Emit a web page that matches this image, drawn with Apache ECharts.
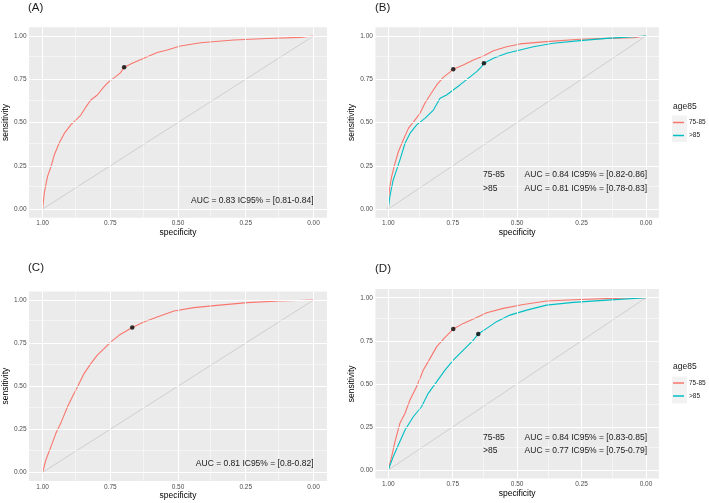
<!DOCTYPE html>
<html><head><meta charset="utf-8">
<script src="https://cdn.jsdelivr.net/npm/echarts@6/dist/echarts.min.js"></script>
<style>html,body{margin:0;padding:0;background:#fff}#c{width:709px;height:503px}</style>
</head><body><div id="c"></div>
<script>
// ---- data ----
const tickValues = [0, 0.25, 0.5, 0.75, 1];
const minorValues = [0.125, 0.375, 0.625, 0.875];
const groups = ['75-85', '>85'];
const panelTitles = ['(A)', '(B)', '(C)', '(D)'];
const diagSpec = [1, 0];
const diagSens = [0, 1];

// Panel A
const specA = [1, 0.994, 0.982, 0.969, 0.957, 0.939, 0.92, 0.896, 0.871, 0.859, 0.84, 0.822, 0.798, 0.773, 0.755, 0.73, 0.712, 0.699, 0.663, 0.626, 0.577, 0.54, 0.491, 0.417, 0.294, 0.172, 0.049, 0];
const sensA = [0, 0.09, 0.187, 0.245, 0.312, 0.38, 0.437, 0.486, 0.524, 0.543, 0.59, 0.63, 0.659, 0.707, 0.736, 0.765, 0.788, 0.819, 0.846, 0.871, 0.904, 0.919, 0.942, 0.961, 0.977, 0.985, 0.992, 1];
const cutA = [0.699, 0.819];
const aucA = 'AUC = 0.83 IC95% = [0.81-0.84]';

// Panel B
const specB1 = [1, 0.996, 0.987, 0.974, 0.961, 0.942, 0.922, 0.897, 0.877, 0.858, 0.838, 0.812, 0.787, 0.767, 0.748, 0.709, 0.67, 0.631, 0.592, 0.541, 0.489, 0.386, 0.256, 0.153, 0.049, 0];
const sensB1 = [0, 0.11, 0.187, 0.264, 0.331, 0.399, 0.466, 0.514, 0.553, 0.611, 0.659, 0.717, 0.761, 0.784, 0.807, 0.832, 0.861, 0.884, 0.915, 0.938, 0.954, 0.967, 0.981, 0.986, 0.99, 1];
const specB2 = [1, 0.994, 0.981, 0.968, 0.955, 0.935, 0.916, 0.89, 0.858, 0.825, 0.799, 0.774, 0.748, 0.722, 0.69, 0.657, 0.638, 0.629, 0.592, 0.541, 0.489, 0.437, 0.36, 0.256, 0.153, 0];
const sensB2 = [0, 0.071, 0.168, 0.225, 0.283, 0.38, 0.437, 0.486, 0.524, 0.572, 0.64, 0.659, 0.688, 0.717, 0.755, 0.794, 0.823, 0.842, 0.871, 0.9, 0.919, 0.938, 0.958, 0.973, 0.986, 1];
const cutB1 = [0.748, 0.807];
const cutB2 = [0.629, 0.842];
const aucB = ['AUC = 0.84 IC95% = [0.82-0.86]', 'AUC = 0.81 IC95% = [0.78-0.83]'];

// Panel C
const specC = [1, 0.988, 0.969, 0.951, 0.933, 0.908, 0.89, 0.871, 0.847, 0.822, 0.798, 0.773, 0.748, 0.718, 0.669, 0.626, 0.577, 0.515, 0.442, 0.356, 0.245, 0.123, 0];
const sensC = [0, 0.071, 0.149, 0.226, 0.284, 0.38, 0.438, 0.496, 0.573, 0.631, 0.68, 0.718, 0.757, 0.795, 0.84, 0.873, 0.902, 0.936, 0.956, 0.969, 0.985, 0.994, 1];
const cutC = [0.669, 0.84];
const aucC = 'AUC = 0.81 IC95% = [0.8-0.82]';

// Panel D
const specD1 = [1, 0.987, 0.974, 0.955, 0.935, 0.916, 0.89, 0.864, 0.838, 0.812, 0.78, 0.748, 0.709, 0.67, 0.618, 0.554, 0.476, 0.386, 0.256, 0.127, 0];
const sensD1 = [0, 0.077, 0.164, 0.271, 0.329, 0.406, 0.484, 0.58, 0.648, 0.716, 0.77, 0.818, 0.851, 0.876, 0.913, 0.938, 0.961, 0.981, 0.99, 0.996, 1];
const specD2 = [1, 0.981, 0.961, 0.935, 0.903, 0.871, 0.845, 0.812, 0.78, 0.748, 0.709, 0.67, 0.651, 0.618, 0.58, 0.528, 0.463, 0.386, 0.282, 0.153, 0];
const sensD2 = [0, 0.077, 0.145, 0.232, 0.309, 0.367, 0.445, 0.513, 0.58, 0.638, 0.696, 0.754, 0.789, 0.822, 0.861, 0.899, 0.928, 0.957, 0.973, 0.986, 1];
const cutD1 = [0.748, 0.818];
const cutD2 = [0.651, 0.789];
const aucD = ['AUC = 0.84 IC95% = [0.83-0.85]', 'AUC = 0.77 IC95% = [0.75-0.79]'];

// ---- chart ----
const RED = '#F8766D', BLUE = '#00BFC4';
const FONT = 'Liberation Sans';
const zip = (a, b) => a.map((v, i) => [v, b[i]]);

const grids = [
  {left: 28, top: 27.3, width: 299, height: 190.4},
  {left: 375.4, top: 27.3, width: 283.5, height: 190.4},
  {left: 28, top: 291.4, width: 299, height: 189.5},
  {left: 375.4, top: 289.1, width: 283.5, height: 189.5}
].map(g => Object.assign({show: true, backgroundColor: '#EBEBEB', borderWidth: 0, containLabel: false}, g));

function axisCommon() {
  return {
    type: 'value', min: -0.05, max: 1.05,
    axisLine: {show: false},
    axisTick: {show: true, length: 2.7, customValues: tickValues, lineStyle: {color: '#333333', width: 0.8}},
    axisLabel: {show: true, customValues: tickValues, margin: 2.5, fontSize: 6.5, color: '#4D4D4D', fontFamily: FONT,
      formatter: v => Number(v).toFixed(2)},
    splitLine: {show: false}, minorSplitLine: {show: false},
    nameLocation: 'middle',
    nameTextStyle: {fontSize: 8.5, color: '#000', fontFamily: FONT}
  };
}
const xAxes = grids.map((g, i) => Object.assign(axisCommon(), {gridIndex: i, inverse: true, name: 'specificity', nameGap: 10}));
const yAxes = grids.map((g, i) => Object.assign(axisCommon(), {gridIndex: i, name: 'sensitivity', nameGap: 17}));

const series = [];
grids.forEach((g, i) => {
  const ml = [];
  minorValues.forEach(v => { ml.push({xAxis: v, lineStyle: {width: 0.5}}); ml.push({yAxis: v, lineStyle: {width: 0.5}}); });
  tickValues.forEach(v => { ml.push({xAxis: v, lineStyle: {width: 1}}); ml.push({yAxis: v, lineStyle: {width: 1}}); });
  series.push({
    type: 'line', xAxisIndex: i, yAxisIndex: i, data: [[0.5, 0.5]], showSymbol: false, symbol: 'none',
    lineStyle: {width: 0}, silent: true, z: 1, animation: false,
    markLine: {silent: true, symbol: ['none', 'none'], animation: false, label: {show: false},
      lineStyle: {color: '#FFFFFF', type: 'solid'}, emphasis: {disabled: true}, data: ml}
  });
  series.push({
    type: 'line', xAxisIndex: i, yAxisIndex: i, data: zip(diagSpec, diagSens), symbol: 'none',
    lineStyle: {color: '#CFCFCF', width: 1}, silent: true, z: 2, animation: false
  });
});

function curve(i, name, color, spec, sens) {
  series.push({type: 'line', name: name, xAxisIndex: i, yAxisIndex: i, data: zip(spec, sens),
    symbol: 'none', showSymbol: false, color: color, lineStyle: {color: color, width: 1.1}, z: 3, animation: false});
}
function dot(i, p) {
  series.push({type: 'scatter', xAxisIndex: i, yAxisIndex: i, data: [p], symbolSize: 4.5,
    itemStyle: {color: '#000'}, z: 5, silent: true, animation: false});
}
curve(0, groups[0], RED, specA, sensA); dot(0, cutA);
curve(1, groups[0], RED, specB1, sensB1); curve(1, groups[1], BLUE, specB2, sensB2); dot(1, cutB1); dot(1, cutB2);
curve(2, groups[0], RED, specC, sensC); dot(2, cutC);
curve(3, groups[0], RED, specD1, sensD1); curve(3, groups[1], BLUE, specD2, sensD2); dot(3, cutD1); dot(3, cutD2);

function legend(top) {
  return {data: groups, orient: 'vertical', left: 673, top: top, padding: 0, icon: 'rect',
    itemWidth: 11, itemHeight: 1.5, itemGap: 5, selectedMode: false,
    textStyle: {fontSize: 6.5, color: '#222', fontFamily: FONT, lineHeight: 8}};
}

function txt(x, y, text, size, align, extra) {
  return Object.assign({type: 'text', x: x, y: y, silent: true, z: 100,
    style: {text: text, fontSize: size, fontFamily: FONT, fill: '#1A1A1A',
      textAlign: align, align: align, textVerticalAlign: 'middle', verticalAlign: 'middle'}}, extra || {});
}

const graphics = [
  {type: 'rect', shape: {x: 672, y: 115.5, width: 15, height: 26.5}, style: {fill: '#F2F2F2'}, z: 0},
  {type: 'rect', shape: {x: 672, y: 376.5, width: 15, height: 27}, style: {fill: '#F2F2F2'}, z: 0},
  txt(28, 8, panelTitles[0], 11.5, 'left'),
  txt(375, 8, panelTitles[1], 11.5, 'left'),
  txt(28, 268, panelTitles[2], 11.5, 'left'),
  txt(375, 269, panelTitles[3], 11.5, 'left'),
  txt(673, 107, 'age85', 8.5, 'left'),
  txt(673, 367, 'age85', 8.5, 'left'),
  txt(313.5, 201, aucA, 8.5, 'right'),
  txt(313.5, 463.3, aucC, 8.5, 'right'),
  txt(483, 175, groups[0], 8.5, 'left'),
  txt(483, 188.5, groups[1], 8.5, 'left'),
  txt(647, 175, aucB[0], 8.5, 'right'),
  txt(647, 188.5, aucB[1], 8.5, 'right'),
  txt(483, 437.7, groups[0], 8.5, 'left'),
  txt(483, 450.3, groups[1], 8.5, 'left'),
  txt(647, 437.7, aucD[0], 8.5, 'right'),
  txt(647, 450.3, aucD[1], 8.5, 'right')
];

const chart = echarts.init(document.getElementById('c'), null, {renderer: 'canvas'});
chart.setOption({
  animation: false,
  backgroundColor: '#FFFFFF',
  grid: grids, xAxis: xAxes, yAxis: yAxes,
  legend: [legend(118.5), legend(379)],
  series: series,
  graphic: graphics
});
</script></body></html>
